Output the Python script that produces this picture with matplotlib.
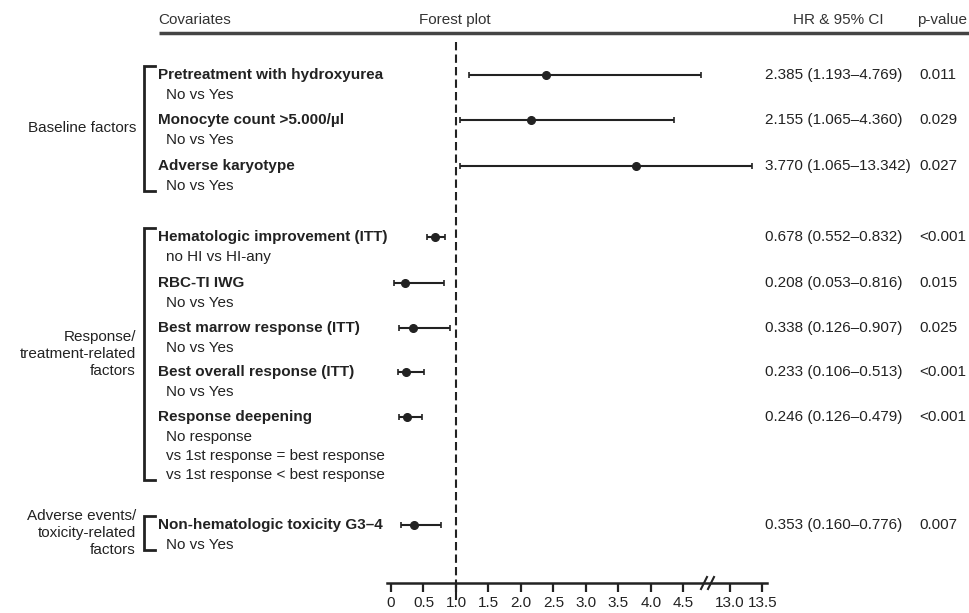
import numpy as np
import matplotlib.pyplot as plt

plt.rcParams['font.family'] = ['Liberation Sans', 'DejaVu Sans']

# data
covariates = ['Pretreatment with hydroxyurea', 'Monocyte count >5.000/µl', 'Adverse karyotype',
              'Hematologic improvement (ITT)', 'RBC-TI IWG', 'Best marrow response (ITT)',
              'Best overall response (ITT)', 'Response deepening', 'Non-hematologic toxicity G3–4']
comparisons = ['No vs Yes', 'No vs Yes', 'No vs Yes', 'no HI vs HI-any', 'No vs Yes', 'No vs Yes',
               'No vs Yes',
               'No response\nvs 1st response = best response\nvs 1st response < best response',
               'No vs Yes']
hr = np.array([2.385, 2.155, 3.770, 0.678, 0.208, 0.338, 0.233, 0.246, 0.353])
ci_low = np.array([1.193, 1.065, 1.065, 0.552, 0.053, 0.126, 0.106, 0.126, 0.160])
ci_high = np.array([4.769, 4.360, 13.342, 0.832, 0.816, 0.907, 0.513, 0.479, 0.776])
p_values = ['0.011', '0.029', '0.027', '<0.001', '0.015', '0.025', '<0.001', '<0.001', '0.007']
groups = ['Baseline factors', 'Response/\ntreatment-related\nfactors',
          'Adverse events/\ntoxicity-related\nfactors']
group_members = [(0, 2), (3, 7), (8, 8)]
tick_values = [0, 0.5, 1.0, 1.5, 2.0, 2.5, 3.0, 3.5, 4.0, 4.5, 13.0, 13.5]
tick_labels = ['0', '0.5', '1.0', '1.5', '2.0', '2.5', '3.0', '3.5', '4.0', '4.5', '13.0', '13.5']

# layout (pixel rows from the top)
W, H = 970, 613
row_y = [75, 120, 166, 237, 283, 328, 372, 417, 525]
sub_gap, sub_step = 20, 19
axis_y = 583
fs = 11
ink = '#222222'

# broken x axis: 4.85..12.65 squeezed to nothing
B0, B1, shift = 4.85, 12.65, 7.785


def fwd(x):
    x = np.asarray(x, float)
    mid = B0 + (x - B0) * ((B1 - shift) - B0) / (B1 - B0)
    return np.where(x <= B0, x, np.where(x >= B1, x - shift, mid))


def inv(t):
    t = np.asarray(t, float)
    mid = B0 + (t - B0) * (B1 - B0) / ((B1 - shift) - B0)
    return np.where(t <= B0, t, np.where(t >= B1 - shift, t + shift, mid))


fig = plt.figure(figsize=(W / 100, H / 100), dpi=100)

# overlay for texts and brackets
frame = fig.add_axes([0, 0, 1, 1])
frame.set_xlim(0, W)
frame.set_ylim(H, 0)
frame.axis('off')

# header
frame.text(158, 20, 'Covariates', fontsize=fs, color='#333333', va='center', ha='left')
frame.text(455, 20, 'Forest plot', fontsize=fs, color='#333333', va='center', ha='center')
frame.text(838, 20, 'HR & 95% CI', fontsize=fs, color='#333333', va='center', ha='center')
frame.text(942, 20, 'p-value', fontsize=fs, color='#333333', va='center', ha='center')
frame.plot([159, W], [33, 33], color='#444444', lw=2.5, solid_capstyle='butt')

# labels and values
sub_last = []
for i, name in enumerate(covariates):
    y = row_y[i]
    frame.text(158, y, name, fontsize=fs, fontweight='bold', color=ink, va='center', ha='left')
    lines = comparisons[i].split('\n')
    for k, ln in enumerate(lines):
        frame.text(166, y + sub_gap + k * sub_step, ln, fontsize=fs, color=ink,
                   va='center', ha='left')
    sub_last.append(y + sub_gap + (len(lines) - 1) * sub_step)
    frame.text(765, y, f'{hr[i]:.3f} ({ci_low[i]:.3f}–{ci_high[i]:.3f})', fontsize=fs,
               color=ink, va='center', ha='left')
    frame.text(919, y, p_values[i], fontsize=fs, color=ink, va='center', ha='left')

# group brackets
for g, (a, b) in enumerate(group_members):
    top = row_y[a] - 9
    bot = sub_last[b] + 5
    frame.plot([155, 144, 144, 155], [top, top, bot, bot], color=ink, lw=2,
               solid_joinstyle='miter')
    frame.text(136, (top + bot) / 2, groups[g], fontsize=fs, color=ink, ha='right',
               va='center', multialignment='right', linespacing=1.25)

# axis break marks
for dx in (0, 7):
    frame.plot([701 + dx, 707 + dx], [589, 577], color=ink, lw=1.5)

# forest axes
ax = fig.add_axes([387 / W, (H - axis_y) / H, 380 / W, axis_y / H])
ax.patch.set_alpha(0)
ax.set_xscale('function', functions=(fwd, inv))
ax.set_xlim(-0.0615, 13.57)
ax.set_ylim(axis_y, 0)
for s in ('top', 'left', 'right'):
    ax.spines[s].set_visible(False)
ax.spines['bottom'].set_linewidth(1.8)
ax.spines['bottom'].set_color(ink)
ax.set_yticks([])
ax.set_xticks(tick_values)
ax.set_xticklabels(tick_labels)
ax.tick_params(axis='x', direction='out', length=6.5, width=1.6, color=ink,
               labelsize=fs, labelcolor=ink, pad=3)

ax.plot([1, 1], [42, 600], color=ink, lw=1.5, ls=(0, (4, 2)), clip_on=False)
ax.errorbar(hr, row_y, xerr=[hr - ci_low, ci_high - hr], fmt='o', color=ink,
            ms=5.5, capsize=2.5, capthick=1.2, elinewidth=1.5)

fig.savefig('out.png', dpi=100)
